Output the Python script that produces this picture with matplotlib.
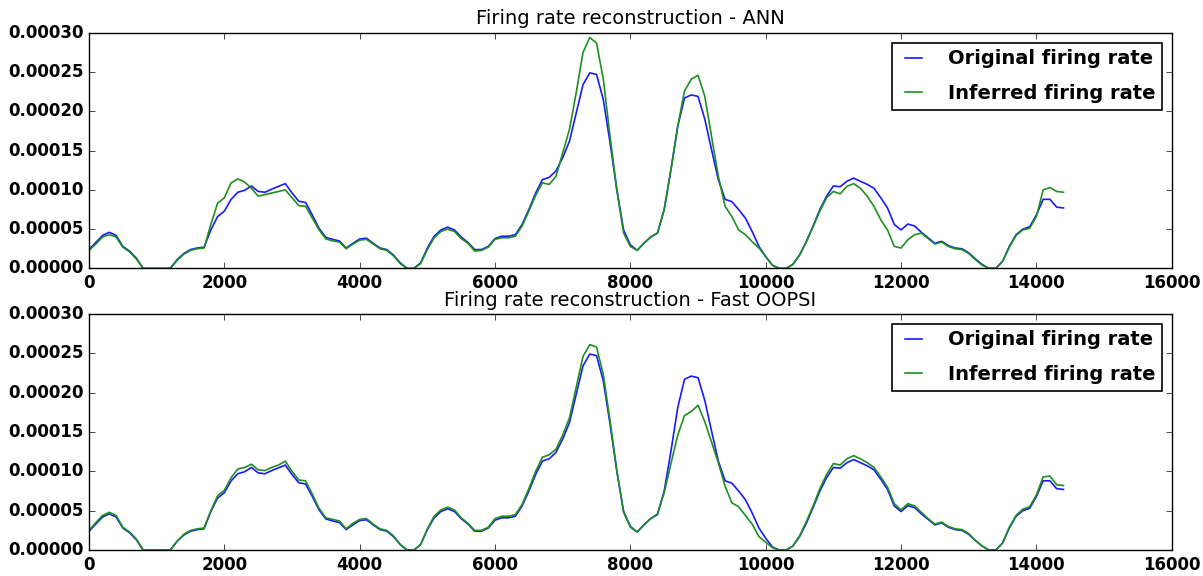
import matplotlib
matplotlib.use("Agg")
import matplotlib.pyplot as plt
import numpy as np

plt.style.use("classic")

# time axis (samples)
t = list(range(0, 14401, 100))

# firing rates (units of 1e-5)
original = [
    2.4, 3.3, 4.2, 4.6, 4.2, 2.8, 2.2, 1.3, 0, 0,
    0, 0, 0, 1.1, 1.9, 2.4, 2.6, 2.7, 4.9, 6.6,
    7.3, 8.8, 9.7, 9.95, 10.5, 9.8, 9.7, 10.1, 10.45, 10.8,
    9.6, 8.55, 8.4, 6.8, 5.1, 3.95, 3.7, 3.5, 2.6, 3.2,
    3.75, 3.85, 3.2, 2.6, 2.4, 1.7, 0.7, 0, 0, 0.7,
    2.6, 4.1, 4.9, 5.25, 4.9, 4.0, 3.3, 2.4, 2.4, 2.8,
    3.8, 4.1, 4.1, 4.3, 5.6, 7.5, 9.6, 11.3, 11.6, 12.4,
    14.1, 16.2, 19.8, 23.4, 24.9, 24.7, 21.5, 16.0, 10.0, 4.9,
    3.0, 2.3, 3.2, 4.0, 4.5, 7.5, 12.6, 18.1, 21.7, 22.1,
    21.9, 19.0, 15.1, 11.3, 8.8, 8.5, 7.5, 6.4, 4.7, 2.8,
    1.5, 0.4, 0, 0, 0.5, 1.7, 3.4, 5.4, 7.5, 9.2,
    10.5, 10.4, 11.1, 11.5, 11.1, 10.7, 10.2, 9.0, 7.7, 5.6,
    4.9, 5.65, 5.4, 4.6, 3.9, 3.2, 3.45, 2.9, 2.6, 2.5,
    2.0, 1.2, 0.5, 0, 0, 0.9, 2.8, 4.3, 5.0, 5.3,
    6.8, 8.8, 8.8, 7.8, 7.7,
]

inferred_ann = [
    2.3, 3.1, 4.0, 4.3, 4.0, 2.7, 2.1, 1.2, 0, 0,
    0, 0, 0, 1.0, 1.8, 2.3, 2.5, 2.6, 5.6, 8.3,
    9.0, 10.9, 11.4, 11.0, 10.2, 9.2, 9.4, 9.6, 9.8, 10.0,
    9.0, 8.0, 7.9, 6.4, 4.9, 3.75, 3.5, 3.35, 2.5, 3.1,
    3.6, 3.7, 3.1, 2.5, 2.3, 1.6, 0.6, 0, 0, 0.6,
    2.4, 3.9, 4.7, 5.0, 4.7, 3.8, 3.2, 2.2, 2.3, 2.7,
    3.7, 3.9, 3.9, 4.1, 5.4, 7.3, 9.3, 10.9, 10.7, 11.7,
    14.7, 17.7, 22.4, 27.5, 29.4, 28.7, 24.1, 16.8, 10.0, 4.5,
    2.8, 2.3, 3.2, 4.0, 4.5, 7.5, 12.6, 18.1, 22.6, 24.1,
    24.6, 21.9, 16.8, 11.7, 7.9, 6.6, 4.9, 4.3, 3.4, 2.6,
    1.5, 0.4, 0, 0, 0.5, 1.7, 3.4, 5.3, 7.3, 9.0,
    9.8, 9.5, 10.45, 10.8, 10.2, 9.2, 7.9, 6.2, 4.9, 2.8,
    2.6, 3.65, 4.3, 4.5, 3.8, 3.1, 3.35, 2.8, 2.5, 2.4,
    1.9, 1.1, 0.4, 0, 0, 0.9, 2.7, 4.2, 4.9, 5.1,
    6.6, 10.0, 10.3, 9.8, 9.7,
]

inferred_oopsi = [
    2.5, 3.5, 4.4, 4.8, 4.4, 2.9, 2.3, 1.4, 0, 0,
    0, 0, 0, 1.1, 2.0, 2.5, 2.7, 2.8, 5.0, 6.9,
    7.6, 9.2, 10.3, 10.5, 10.9, 10.2, 10.1, 10.5, 10.8, 11.3,
    10.0, 8.9, 8.8, 7.1, 5.3, 4.1, 3.9, 3.7, 2.7, 3.4,
    3.9, 4.0, 3.3, 2.7, 2.5, 1.8, 0.7, 0, 0, 0.7,
    2.7, 4.3, 5.1, 5.45, 5.1, 4.1, 3.4, 2.5, 2.5, 2.9,
    4.0, 4.3, 4.3, 4.5, 5.8, 7.8, 10.0, 11.8, 12.1, 12.8,
    14.6, 16.8, 20.7, 24.6, 26.1, 25.8, 22.3, 16.4, 10.1, 4.8,
    2.9, 2.3, 3.2, 4.0, 4.6, 7.3, 11.0, 14.6, 17.1, 17.6,
    18.4, 16.3, 13.7, 11.1, 8.1, 6.0, 5.5, 4.4, 3.3, 1.7,
    1.0, 0.3, 0, 0, 0.5, 1.8, 3.6, 5.6, 7.8, 9.6,
    11.0, 10.8, 11.6, 12.0, 11.6, 11.1, 10.5, 9.3, 8.0, 5.9,
    5.1, 5.9, 5.6, 4.8, 4.0, 3.3, 3.55, 3.0, 2.7, 2.6,
    2.1, 1.2, 0.5, 0, 0, 0.9, 2.9, 4.4, 5.2, 5.5,
    7.0, 9.3, 9.4, 8.3, 8.2,
]

titles = ["Firing rate reconstruction - ANN", "Firing rate reconstruction - Fast OOPSI"]
labels = ["Original firing rate", "Inferred firing rate"]
xticks = [0, 2000, 4000, 6000, 8000, 10000, 12000, 14000, 16000]
yticks = [0.0, 0.00005, 0.0001, 0.00015, 0.0002, 0.00025, 0.0003]
ytick_labels = ["0.00000", "0.00005", "0.00010", "0.00015", "0.00020", "0.00025", "0.00030"]

scale = 1e-5
t_arr = np.array(t)
orig_arr = np.array(original) * scale
inferred_sets = [np.array(inferred_ann) * scale, np.array(inferred_oopsi) * scale]

fig = plt.figure(figsize=(12.03, 5.76), dpi=100, facecolor="white")
positions = [[0.074, 0.534, 0.900, 0.409], [0.074, 0.045, 0.900, 0.410]]

for pos, title, inf in zip(positions, titles, inferred_sets):
    ax = fig.add_axes(pos)
    ax.set_facecolor("white")
    ax.plot(t_arr, orig_arr, color="#1a1aff", lw=1.2, label=labels[0])
    ax.plot(t_arr, inf, color="#1f8f1f", lw=1.2, label=labels[1])
    ax.set_xlim(0, 16000)
    ax.set_ylim(0, 0.0003)
    ax.set_xticks(xticks)
    ax.set_xticklabels([str(v) for v in xticks], fontweight="bold", fontsize=12)
    ax.set_yticks(yticks)
    ax.set_yticklabels(ytick_labels, fontweight="bold", fontsize=12)
    ax.set_title(title, fontsize=14, pad=6)
    leg = ax.legend(loc="upper right", prop={"weight": "bold", "size": 14},
                    fancybox=False, borderaxespad=0.5, handlelength=1.5,
                    handletextpad=1.0, borderpad=0.35, labelspacing=0.8)
    leg.get_frame().set_edgecolor("black")
    leg.get_frame().set_linewidth(1.2)

fig.savefig("out.png", dpi=100, facecolor="white")
